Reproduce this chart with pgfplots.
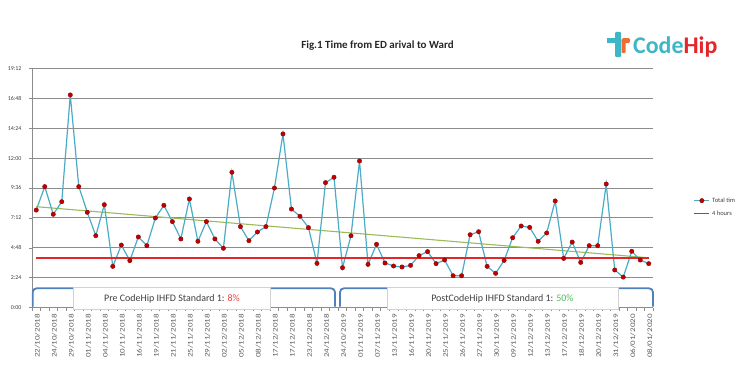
\documentclass[border=0pt]{standalone}
\usepackage{pgfplots}
\usepackage{pgfplotstable}
\pgfplotsset{compat=1.18}
\usepackage{fontspec}
\setmainfont{Carlito}
\definecolor{linec}{RGB}{75,172,198}
\definecolor{markc}{RGB}{192,0,0}
\definecolor{trendc}{RGB}{155,187,89}
\definecolor{bracec}{RGB}{79,129,189}
\definecolor{gridc}{RGB}{140,140,140}
\definecolor{logoteal}{RGB}{61,182,200}
\definecolor{logored}{RGB}{228,38,43}
\definecolor{logoorng}{RGB}{236,110,50}
\definecolor{txtc}{RGB}{64,64,64}
\definecolor{pctred}{RGB}{240,64,64}
\definecolor{pctgreen}{RGB}{76,191,90}
\newcommand\xl[1]{\scalebox{1.3}[1]{#1}}

\pgfplotstableread{
idx time
0 7.83
1 9.71
2 7.49
3 8.50
4 17.07
5 9.71
6 7.65
7 5.77
8 8.26
9 3.31
10 5.02
11 3.77
12 5.67
13 4.97
14 7.19
15 8.21
16 6.90
17 5.51
18 8.72
19 5.32
20 6.90
21 5.51
22 4.76
23 10.86
24 6.50
25 5.37
26 6.07
27 6.50
28 9.60
29 13.94
30 7.91
31 7.33
32 6.42
33 3.55
34 10.03
35 10.46
36 3.20
37 5.77
38 11.77
39 3.47
40 5.08
41 3.58
42 3.34
43 3.26
44 3.39
45 4.17
46 4.49
47 3.53
48 3.82
49 2.56
50 2.56
51 5.85
52 6.09
53 3.31
54 2.75
55 3.79
56 5.61
57 6.55
58 6.44
59 5.32
60 5.99
61 8.56
62 3.95
63 5.26
64 3.63
65 4.97
66 4.97
67 9.92
68 3.02
69 2.45
70 4.52
71 3.82
72 3.53
}\datatable

\pgfplotstableread{
idx hrs
0 4
72 4
}\hourtable

\begin{document}
\begin{tikzpicture}[x=1bp,y=1bp]
\path (0,0) rectangle (745,370);
\begin{axis}[
  at={(32bp,62.4bp)}, anchor=south west,
  scale only axis, width=621bp, height=239.2bp,
  xmin=-0.5, xmax=72.5, ymin=0, ymax=19.2,
  axis x line*=bottom, axis y line*=left,
  axis line style={-, draw=gridc, line width=0.8bp},
  ytick={0,2.4,4.8,7.2,9.6,12,14.4,16.8,19.2},
  yticklabels={0:00,2:24,4:48,7:12,9:36,12:00,14:24,16:48,19:12},
  ymajorgrids, grid style={gridc, line width=0.9bp},
  xtick={0,2,...,72},
  xticklabels={\xl{22/10/2018},\xl{24/10/2018},\xl{29/10/2018},\xl{01/11/2018},\xl{04/11/2018},\xl{10/11/2018},\xl{16/11/2018},\xl{19/11/2018},\xl{21/11/2018},\xl{25/11/2018},\xl{29/11/2018},\xl{02/12/2018},\xl{05/12/2018},\xl{08/12/2018},\xl{17/12/2018},\xl{17/12/2018},\xl{23/12/2018},\xl{24/12/2018},\xl{24/10/2019},\xl{01/11/2019},\xl{07/11/2019},\xl{13/11/2019},\xl{16/11/2019},\xl{20/11/2019},\xl{25/11/2019},\xl{26/11/2019},\xl{27/11/2019},\xl{30/11/2019},\xl{09/12/2019},\xl{12/12/2019},\xl{13/12/2019},\xl{17/12/2019},\xl{18/12/2019},\xl{20/12/2019},\xl{31/12/2019},\xl{06/01/2020},\xl{08/01/2020}},
  minor xtick={-0.5,0.5,...,72.5},
  xticklabel style={rotate=90, anchor=east, font=\fontsize{7}{8}\selectfont, text=txtc!85, yshift=-1bp},
  yticklabel style={font=\fontsize{6}{7}\selectfont, text=txtc, xshift=-4bp},
  tick align=outside, major tick length=3bp, minor tick length=3bp,
  major x tick style={draw=none},
  tick style={gridc, line width=0.6bp},
  clip=false,
  legend style={draw=none, fill=none, font=\fontsize{6.5}{7}\selectfont, at={(1.065,0.42)}, anchor=west, row sep=3bp, inner sep=0pt},
  legend cell align=left,
  legend image code/.code={\draw[mark repeat=2,mark phase=2,#1] plot coordinates {(0bp,0bp) (7.5bp,0bp) (15bp,0bp)};},
]
\addplot[color=trendc, line width=1.1bp, forget plot] coordinates {(0,8.1) (72,4.0)};
\addplot[color=linec, line width=1.2bp, mark=*, mark size=2.2bp, mark options={fill=markc, draw=markc!75!black, line width=0.4bp}] table[x=idx,y=time]{\datatable};
\addlegendentry{\textcolor{txtc}{Total tim}}
\addplot[color=logored, line width=1.6bp, mark=none] table[x=idx,y=hrs]{\hourtable};
\addlegendentry{\textcolor{txtc}{4 hours}}
% brackets and labels
\draw[bracec, line width=1.8bp, rounded corners=4bp] (axis cs:-0.42,0.07) -- (axis cs:-0.42,1.55) -- (axis cs:35.12,1.55) -- (axis cs:35.12,0.07);
\draw[bracec, line width=1.8bp, rounded corners=4bp] (axis cs:35.7,0.07) -- (axis cs:35.7,1.55) -- (axis cs:72.5,1.55) -- (axis cs:72.5,0.07);
\draw[gray!35, fill=white] (axis cs:4.3,-0.11) rectangle (axis cs:27.5,1.62);
\node[font=\fontsize{10}{12}\selectfont, text=txtc] at (axis cs:15.96,0.69) {Pre CodeHip IHFD Standard 1: \textcolor{pctred}{8\%}};
\draw[gray!35, fill=white] (axis cs:41.2,-0.11) rectangle (axis cs:68.4,1.62);
\node[font=\fontsize{10}{12}\selectfont, text=txtc] at (axis cs:54.8,0.69) {PostCodeHip IHFD Standard 1: \textcolor{pctgreen}{50\%}};
\end{axis}
% title
\node[font=\bfseries\fontsize{11}{13}\selectfont, text=black!85] at (377.5,324.3) {Fig.1 Time from ED arival to Ward};
% logo
\fill[logoteal] (607,327) rectangle (616,332);
\fill[logoteal, rounded corners=1bp] (615,313) rectangle (621,338);
\fill[logoorng, rounded corners=1bp] (621.5,317) rectangle (625.5,331);
\fill[logoorng, rounded corners=1.5bp] (621.5,327) rectangle (630,332);
\node[anchor=base west, font=\bfseries\fontsize{24}{24}\selectfont, inner sep=0] at (633,317) {\textcolor{logoteal}{Code}\textcolor{logored}{Hip}};
\pgfresetboundingbox
\path[use as bounding box] (0,0) rectangle (745,370);
\end{tikzpicture}
\end{document}
